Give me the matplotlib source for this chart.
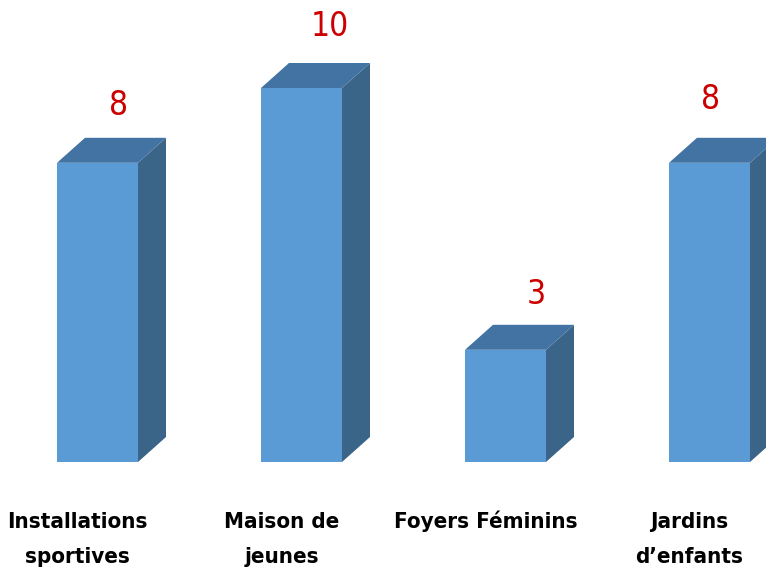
import matplotlib
matplotlib.use("Agg")
import matplotlib.pyplot as plt
from matplotlib.patches import Polygon
from matplotlib import font_manager
from matplotlib.font_manager import FontProperties

categories = ["Installations\nsportives", "Maison de\njeunes", "Foyers Féminins", "Jardins\nd\u2019enfants"]
values = [8, 10, 3, 8]

# label placement tweaks (pixels) relative to bar
label_dx_px = [21, 28, 31, 1]
label_dy_px = [32, 37, 30, 38]

front_color = "#5B9BD5"
top_color = "#4273A3"
side_color = "#3A6488"
label_color = "#CC0000"


def find_font(bold):
    want_w = 700 if bold else 400
    for f in font_manager.fontManager.ttflist:
        if f.name == "DejaVu Sans" and f.stretch == "condensed" and f.weight == want_w and f.style == "normal":
            return FontProperties(fname=f.fname)
    return FontProperties(family=["Roboto", "DejaVu Sans"], weight="bold" if bold else "normal")


fp_bold = find_font(True)
fp_reg = find_font(False)

fig = plt.figure(figsize=(7.66, 5.72), dpi=100)
ax = fig.add_axes([0, 0, 1, 1])
px_x = 204.0
px_y = 37.4
ax.set_xlim(-0.478, -0.478 + 766 / px_x)
ax.set_ylim(-110 / px_y, (572 - 110) / px_y)
ax.axis("off")

w = 81 / px_x      # front face width
dx = 28 / px_x     # depth in x
dy = 25 / px_y     # depth in y

for i, v in enumerate(values):
    x0 = i - w / 2
    x1 = i + w / 2
    ax.add_patch(Polygon([(x1, 0), (x1 + dx, dy), (x1 + dx, v + dy), (x1, v)],
                         closed=True, facecolor=side_color, edgecolor="none"))
    ax.add_patch(Polygon([(x0, v), (x1, v), (x1 + dx, v + dy), (x0 + dx, v + dy)],
                         closed=True, facecolor=top_color, edgecolor="none"))
    ax.add_patch(Polygon([(x0, 0), (x1, 0), (x1, v), (x0, v)],
                         closed=True, facecolor=front_color, edgecolor="none"))
    fpv = fp_reg.copy()
    fpv.set_size(24)
    ax.text(i + label_dx_px[i] / px_x, v + dy + label_dy_px[i] / px_y, str(v),
            ha="center", va="center", color=label_color, fontproperties=fpv)
    fpc = fp_bold.copy()
    fpc.set_size(16)
    top_px = 50 if "\n" in categories[i] else 48
    ax.text(i - 20 / px_x, -top_px / px_y, categories[i], ha="center", va="top",
            linespacing=1.95, fontproperties=fpc)

fig.savefig("out.png", dpi=100, facecolor="white")
